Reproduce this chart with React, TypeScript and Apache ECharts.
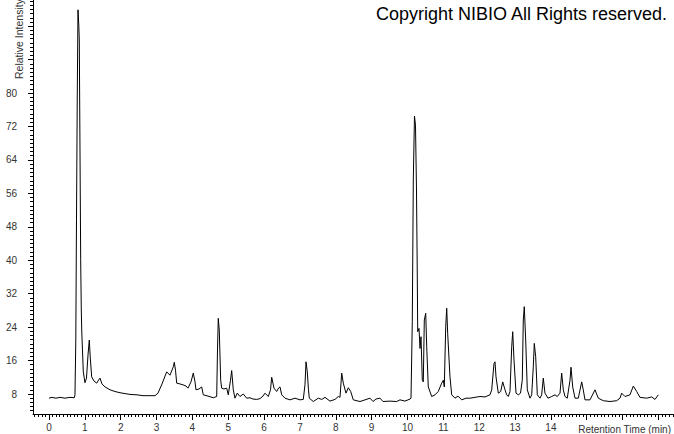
import React, { useEffect, useRef } from "react";
import * as echarts from "echarts";

// Retention time (min) of each traced point of the chromatogram
const retentionTimes = [
  0, 0.084, 0.195, 0.307, 0.446, 0.586, 0.706, 0.725, 0.748, 0.767,
  0.789, 0.809, 0.831, 0.845, 0.865, 0.884, 0.901, 0.915, 0.957, 1.004,
  1.046, 1.088, 1.124, 1.152, 1.191, 1.255, 1.331, 1.381, 1.423, 1.478,
  1.562, 1.702, 1.841, 1.981, 2.12, 2.259, 2.455, 2.622, 2.817, 2.957,
  3.04, 3.152, 3.283, 3.375, 3.467, 3.495, 3.529, 3.562, 3.654, 3.738,
  3.821, 3.877, 3.961, 4.025, 4.073, 4.1, 4.184, 4.259, 4.304, 4.435,
  4.583, 4.678, 4.7, 4.722, 4.75, 4.789, 4.817, 4.881, 4.957, 5.001,
  5.063, 5.096, 5.141, 5.188, 5.252, 5.328, 5.42, 5.515, 5.607, 5.69,
  5.794, 5.886, 5.969, 6.025, 6.117, 6.179, 6.212, 6.276, 6.351, 6.402,
  6.444, 6.491, 6.583, 6.722, 6.862, 7.001, 7.093, 7.141, 7.169, 7.205,
  7.238, 7.261, 7.372, 7.512, 7.607, 7.699, 7.838, 7.978, 8.07, 8.117,
  8.165, 8.209, 8.285, 8.349, 8.416, 8.488, 8.675, 8.815, 8.954, 9.038,
  9.121, 9.233, 9.317, 9.512, 9.699, 9.791, 9.93, 10.07, 10.098, 10.134,
  10.162, 10.195, 10.223, 10.251, 10.271, 10.285, 10.321, 10.349, 10.377, 10.413,
  10.441, 10.469, 10.508, 10.536, 10.58, 10.675, 10.767, 10.859, 10.954, 10.999,
  11.027, 11.066, 11.094, 11.121, 11.185, 11.233, 11.325, 11.409, 11.512, 11.632,
  11.743, 11.883, 12.022, 12.162, 12.301, 12.349, 12.413, 12.441, 12.469, 12.533,
  12.6, 12.656, 12.72, 12.767, 12.812, 12.859, 12.907, 12.935, 12.971, 13.027,
  13.091, 13.152, 13.202, 13.23, 13.258, 13.297, 13.342, 13.417, 13.465, 13.509,
  13.537, 13.576, 13.621, 13.696, 13.743, 13.788, 13.835, 13.919, 14.022, 14.114,
  14.178, 14.254, 14.301, 14.346, 14.393, 14.457, 14.533, 14.561, 14.608, 14.672,
  14.764, 14.859, 14.903, 14.951, 15.091, 15.23, 15.322, 15.462, 15.649, 15.835,
  15.927, 15.975, 16.067, 16.206, 16.299, 16.393, 16.485, 16.672, 16.812, 16.904,
  16.996,
];

// Relative intensity at each retention time above
const intensities = [
  7.0, 7.2, 7.0, 7.2, 7.0, 7.2, 7.1, 7.8, 20.9, 49.6,
  79.5, 99.9, 96.3, 92.7, 66.4, 40.1, 28.1, 22.8, 13.3, 10.7,
  11.8, 17.3, 20.9, 16.6, 12.1, 11.1, 10.6, 11.3, 11.8, 10.4,
  9.7, 9.0, 8.6, 8.3, 8.1, 7.9, 7.8, 7.6, 7.6, 7.6,
  8.2, 10.4, 13.3, 12.5, 14.5, 15.6, 13.7, 10.6, 10.4, 10.2,
  9.9, 9.4, 10.9, 13.0, 10.9, 9.0, 9.2, 9.7, 7.8, 7.5,
  7.1, 7.4, 18.5, 26.1, 23.3, 11.3, 9.4, 9.2, 9.4, 7.8,
  11.3, 13.6, 9.0, 7.0, 8.2, 7.4, 8.0, 7.0, 7.1, 6.8,
  6.7, 6.9, 7.5, 8.2, 7.4, 9.0, 12.0, 9.4, 8.6, 9.4,
  9.7, 7.8, 7.0, 6.6, 7.0, 6.6, 6.7, 10.2, 15.7, 13.3,
  9.0, 7.0, 6.2, 7.0, 6.7, 7.2, 6.3, 6.7, 7.4, 7.2,
  13.0, 10.6, 8.2, 9.5, 8.6, 6.6, 6.2, 6.6, 7.0, 6.2,
  6.8, 7.0, 6.2, 6.3, 6.2, 6.6, 6.3, 6.8, 7.0, 25.3,
  59.2, 74.5, 72.3, 56.8, 38.4, 22.9, 23.7, 18.9, 21.7, 11.3,
  10.9, 25.7, 27.3, 19.3, 9.7, 7.4, 7.8, 8.6, 10.6, 11.3,
  9.7, 24.1, 28.5, 22.5, 12.1, 7.8, 7.0, 7.5, 6.6, 7.0,
  7.0, 7.2, 7.4, 7.3, 7.8, 9.0, 15.3, 15.7, 12.1, 8.2,
  8.6, 10.9, 9.0, 7.8, 7.4, 8.6, 19.3, 22.9, 16.1, 8.2,
  7.8, 8.2, 11.3, 25.7, 28.9, 20.9, 9.0, 7.0, 7.8, 14.5,
  20.1, 16.9, 7.8, 7.0, 7.8, 11.8, 8.2, 7.0, 7.4, 7.8,
  7.4, 8.2, 13.0, 9.0, 7.4, 7.0, 11.3, 14.4, 9.7, 7.0,
  7.0, 10.9, 9.0, 6.6, 6.6, 9.0, 7.0, 6.4, 6.2, 6.4,
  7.0, 8.2, 7.4, 7.8, 9.9, 8.6, 7.2, 7.0, 7.3, 6.7,
  7.8,
];

// Axis ticks and labels
const xLabelValues = [0, 1, 2, 3, 4, 5, 6, 7, 8, 9, 10, 11, 12, 13, 14];
const xMajorTickValues = [0, 1, 2, 3, 4, 5, 6, 7, 8, 9, 10, 11, 12, 13, 14, 15, 16, 17];
const yLabelValues = [8, 16, 24, 32, 40, 48, 56, 64, 72, 80];
const yMajorTickValues = [8, 16, 24, 32, 40, 48, 56, 64, 72, 80, 88, 96];

const X_MIN = -0.446;
const X_MAX = 17.406;
const Y_MIN = 3.216;
const Y_MAX = 102.25;

const xMinorTickValues: number[] = [];
for (let i = -4; i <= 174; i++) xMinorTickValues.push(i / 10);
const yMinorTickValues: number[] = [];
for (let i = 4; i <= 102; i++) yMinorTickValues.push(i);

const FONT = "'Liberation Sans', Arial, Helvetica, sans-serif";

export default function App() {
  const ref = useRef<HTMLDivElement>(null);

  useEffect(() => {
    document.body.style.margin = "0";
    const chart = echarts.init(ref.current!, null, { renderer: "svg" });
    const seriesData = retentionTimes.map((t, i) => [t, intensities[i]]);

    const axisLine = { show: true, onZero: false, lineStyle: { color: "#000", width: 1 } };

    chart.setOption({
      animation: false,
      backgroundColor: "#fff",
      grid: { left: 33, right: 1, top: 0, bottom: 20, containLabel: false },
      xAxis: [
        {
          type: "value",
          min: X_MIN,
          max: X_MAX,
          position: "bottom",
          axisLine,
          axisTick: { show: true, customValues: xMajorTickValues, length: 6, lineStyle: { color: "#000" } },
          axisLabel: {
            show: true,
            customValues: xLabelValues,
            fontSize: 10,
            fontFamily: FONT,
            color: "#333",
            margin: 8,
          },
          splitLine: { show: false },
        },
        {
          type: "value",
          min: X_MIN,
          max: X_MAX,
          position: "bottom",
          axisLine: { show: false, onZero: false },
          axisTick: { show: true, customValues: xMinorTickValues, length: 3, lineStyle: { color: "#000" } },
          axisLabel: { show: false },
          splitLine: { show: false },
        },
      ],
      yAxis: [
        {
          type: "value",
          min: Y_MIN,
          max: Y_MAX,
          position: "left",
          axisLine,
          axisTick: { show: true, customValues: yMajorTickValues, length: 5, lineStyle: { color: "#000" } },
          axisLabel: {
            show: true,
            customValues: yLabelValues,
            fontSize: 10,
            fontFamily: FONT,
            color: "#333",
            margin: 16,
          },
          splitLine: { show: false },
        },
        {
          type: "value",
          min: Y_MIN,
          max: Y_MAX,
          position: "left",
          axisLine: { show: false, onZero: false },
          axisTick: { show: true, customValues: yMinorTickValues, length: 3, lineStyle: { color: "#000" } },
          axisLabel: { show: false },
          splitLine: { show: false },
        },
      ],
      graphic: [
        {
          type: "text",
          right: 6,
          top: 5,
          style: {
            text: "Copyright NIBIO All Rights reserved.",
            fontSize: 18,
            fontFamily: FONT,
            fill: "#000",
          },
        },
        {
          type: "text",
          x: 18.5,
          y: 79,
          rotation: Math.PI / 2,
          style: {
            text: "Relative Intensity",
            fontSize: 10.5,
            fontFamily: FONT,
            fill: "#333",
            align: "left",
            verticalAlign: "middle",
          },
        },
        {
          type: "text",
          x: 671,
          y: 429,
          style: {
            text: "Retention Time (min)",
            fontSize: 10,
            fontFamily: FONT,
            fill: "#333",
            align: "right",
            verticalAlign: "middle",
          },
        },
      ],
      series: [
        {
          type: "line",
          xAxisIndex: 0,
          yAxisIndex: 0,
          data: seriesData,
          showSymbol: false,
          symbol: "none",
          lineStyle: { color: "#000", width: 1 },
          emphasis: { disabled: true },
          silent: true,
        },
      ],
    });

    return () => chart.dispose();
  }, []);

  return (
    <div
      ref={ref}
      style={{ position: "absolute", left: 0, top: 0, width: 674, height: 434, background: "#fff" }}
    />
  );
}
